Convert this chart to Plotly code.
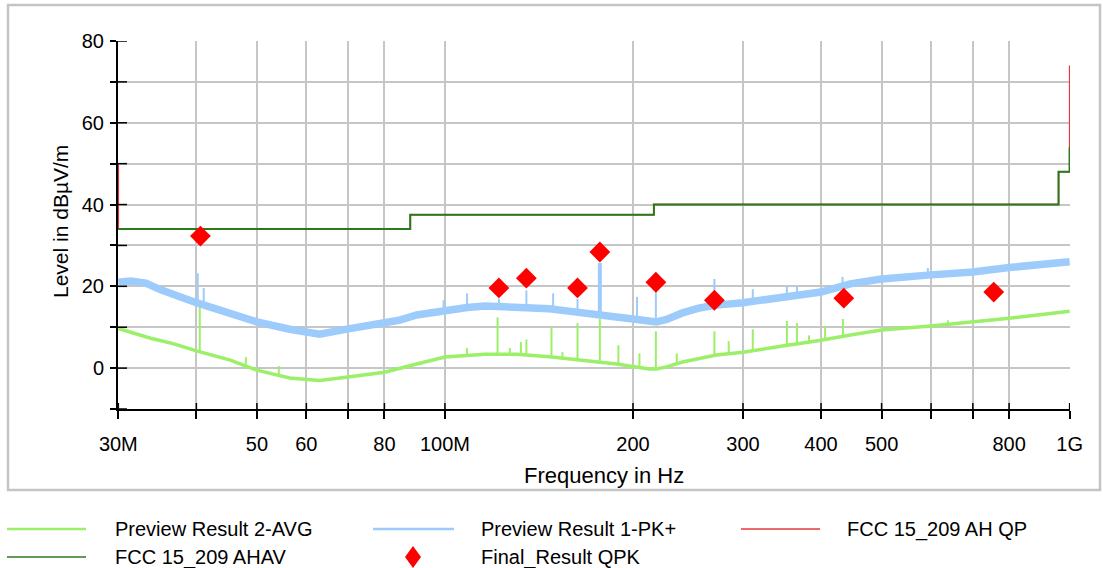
import plotly.graph_objects as go

MHZ = 1e6

# ---------------- data (frequencies in MHz, levels in dBµV/m) ----------------
pk_freq = [30, 31.4, 33.2, 35, 40, 45.2, 50, 56.4, 60, 63, 70, 80, 84.4, 90.1, 100,
           108.5, 115.9, 122.3, 130.2, 138.1, 147, 156.5, 166, 176.7, 188.1, 200,
           212.6, 218, 226.3, 240, 255.6, 272, 300, 347, 400, 445.6, 500, 600,
           700, 800, 896, 1000]
pk_level = [21.0, 21.3, 20.8, 19.2, 16.0, 13.2, 11.3, 9.5, 8.9, 8.3, 9.6, 11.0, 11.7,
            13.0, 14.2, 14.8, 15.2, 15.1, 15.0, 15.0, 14.5, 14.0, 13.4, 12.9, 12.5,
            12.0, 11.4, 11.3, 11.9, 13.5, 14.7, 15.4, 16.0, 17.1, 18.6, 20.6, 21.8,
            22.8, 23.5, 24.6, 25.3, 26.0]

# isolated peaks on the PK+ trace: frequency, level under the peak, peak level
pk_spike_freq = [40.2, 41.1, 99.5, 108.5, 122, 135, 149, 163, 203, 217.6, 270, 311,
                 352.7, 366, 433, 593]
pk_spike_base = [16.0, 16.0, 14.2, 15.0, 15.1, 15.0, 14.5, 13.6, 11.9, 11.3, 15.3,
                 16.2, 17.2, 17.5, 19.8, 22.8]
pk_spike_peak = [23.2, 19.6, 16.6, 18.3, 17.0, 19.0, 18.3, 16.9, 17.4, 18.6, 21.8,
                 19.3, 20.0, 20.0, 22.3, 24.5]
pk_big_spike_freq = [177]
pk_big_spike_base = [13.0]
pk_big_spike_peak = [25.7]

avg_freq = [30, 33.8, 36.7, 40, 45.2, 50, 56.4, 60, 63, 70, 80, 90.1, 100, 115.9,
            130.2, 147, 166, 188.1, 212.6, 218, 226.3, 240, 272, 300, 347, 400,
            445.6, 500, 600, 700, 800, 1000]
avg_level = [9.7, 7.3, 6.0, 4.2, 2.0, -0.5, -2.4, -2.8, -3.0, -2.2, -1.0, 1.0, 2.7,
             3.4, 3.4, 2.8, 2.0, 1.0, -0.2, -0.2, 0.3, 1.5, 3.2, 3.9, 5.4, 6.8, 8.1,
             9.3, 10.3, 11.3, 12.2, 13.9]

avg_spike_freq = [40.5, 48.0, 54.2, 108.5, 121.4, 127.0, 132.3, 135, 148.1, 154.2,
                  163, 177, 189.5, 204.8, 217.6, 235, 270, 284.6, 311, 352.7, 366,
                  382.6, 406, 433.6, 638.3]
avg_spike_base = [4.2, 0.0, -2.0, 3.0, 3.4, 3.4, 3.4, 3.4, 2.8, 2.6, 2.3, 1.8, 1.0,
                  0.3, -0.2, 1.0, 3.2, 3.5, 4.0, 5.4, 5.6, 6.0, 6.9, 7.5, 10.5]
avg_spike_peak = [15.0, 2.7, 0.5, 4.9, 12.4, 4.9, 6.4, 7.0, 10.0, 3.9, 11.0, 12.0,
                  5.6, 3.6, 9.0, 3.6, 9.0, 6.6, 9.5, 11.5, 11.0, 8.0, 10.3, 12.0, 11.7]

qp_limit_freq = [30, 30, 88, 88, 216, 216, 960, 960, 1000, 1000]
qp_limit_level = [50, 34, 34, 37.5, 37.5, 40, 40, 48, 48, 74]

av_limit_freq = [30, 88, 88, 216, 216, 960, 960, 1000, 1000]
av_limit_level = [34, 34, 37.5, 37.5, 40, 40, 48, 48, 54]

final_freq = [40.6, 122, 135, 163, 177, 217.6, 270, 435, 756]
final_level = [32.3, 19.6, 22.0, 19.6, 28.4, 21.0, 16.6, 17.1, 18.6]

x_tick_vals = [30, 40, 50, 60, 70, 80, 100, 200, 300, 400, 500, 600, 700, 800, 1000]
x_tick_text = ["30M", "", "50", "60", "", "80", "100M", "200", "300", "400", "500",
               "", "", "800", "1G"]
y_tick_vals = [-10, 0, 10, 20, 30, 40, 50, 60, 70, 80]
y_tick_text = ["", "0", "", "20", "", "40", "", "60", "", "80"]

legend_names = ["Preview Result 2-AVG", "Preview Result 1-PK+", "FCC 15_209 AH QP",
                "FCC 15_209 AHAV", "Final_Result QPK"]

# ---------------- styling ----------------
GREEN = "#9cef68"
BLUE = "#9dcbfb"
RED = "#e8363b"
DKGREEN = "#2a7a1c"
FONT = "Liberation Sans, Arial, sans-serif"

W, H = 1103, 568
L, R, T, B = 118, 33, 41, 159
PW, PH = W - L - R, H - T - B


def px(xp):
    return (xp - L) / PW


def py(yp):
    return (T + PH - yp) / PH


def spikes(freqs, bases, peaks):
    xs, ys = [], []
    for f, b, p in zip(freqs, bases, peaks):
        xs += [f * MHZ, f * MHZ, None]
        ys += [b, p, None]
    return xs, ys


fig = go.Figure()

# AVG
fig.add_trace(go.Scatter(x=[f * MHZ for f in avg_freq], y=avg_level, mode="lines",
                         line=dict(color=GREEN, width=3.5), name=legend_names[0]))
sx, sy = spikes(avg_spike_freq, avg_spike_base, avg_spike_peak)
fig.add_trace(go.Scatter(x=sx, y=sy, mode="lines", line=dict(color=GREEN, width=2)))

# PK+
fig.add_trace(go.Scatter(x=[f * MHZ for f in pk_freq], y=pk_level, mode="lines",
                         line=dict(color=BLUE, width=7.5), name=legend_names[1]))
sx, sy = spikes(pk_spike_freq, pk_spike_base, pk_spike_peak)
fig.add_trace(go.Scatter(x=sx, y=sy, mode="lines", line=dict(color=BLUE, width=2)))
sx, sy = spikes(pk_big_spike_freq, pk_big_spike_base, pk_big_spike_peak)
fig.add_trace(go.Scatter(x=sx, y=sy, mode="lines", line=dict(color=BLUE, width=4)))

# limits
fig.add_trace(go.Scatter(x=[f * MHZ for f in qp_limit_freq], y=qp_limit_level,
                         mode="lines", line=dict(color=RED, width=1.5),
                         name=legend_names[2]))
fig.add_trace(go.Scatter(x=[f * MHZ for f in av_limit_freq], y=av_limit_level,
                         mode="lines", line=dict(color=DKGREEN, width=2),
                         name=legend_names[3]))

# final
fig.add_trace(go.Scatter(x=[f * MHZ for f in final_freq], y=final_level, mode="markers",
                         marker=dict(symbol="diamond", size=16, color="#ff0000",
                                     line=dict(width=0)),
                         name=legend_names[4]))

shapes = []
# outer frame
shapes.append(dict(type="rect", xref="paper", yref="paper",
                   x0=px(8), x1=px(1100), y0=py(490), y1=py(5),
                   line=dict(color="#c4c4c4", width=2.5), layer="below"))
# inside tick parts
for v in x_tick_vals:
    shapes.append(dict(type="line", xref="x", yref="paper", x0=v * MHZ, x1=v * MHZ,
                       y0=0, y1=6 / PH, line=dict(color="black", width=1.5)))
for v in y_tick_vals:
    shapes.append(dict(type="line", xref="paper", yref="y", x0=0, x1=9 / PW,
                       y0=v, y1=v, line=dict(color="black", width=1.5)))

# manual legend
row1, row2 = 529, 557
legend_items = [
    (7, 86, row1, GREEN, 2.5, 113, legend_names[0]),
    (373, 454, row1, BLUE, 2.5, 479, legend_names[1]),
    (741, 820, row1, RED, 1.5, 845, legend_names[2]),
    (7, 86, row2, DKGREEN, 1.5, 113, legend_names[3]),
]
annotations = []
for x0, x1, yy, col, w, tx, name in legend_items:
    shapes.append(dict(type="line", xref="paper", yref="paper", x0=px(x0), x1=px(x1),
                       y0=py(yy), y1=py(yy), line=dict(color=col, width=w)))
    annotations.append(dict(x=px(tx), y=py(yy), xref="paper", yref="paper",
                            text=name, showarrow=False, xanchor="left",
                            yanchor="middle", font=dict(size=20, color="black",
                                                        family=FONT)))
# diamond legend symbol
cx, cy = 413, row2
path = "M {a},{b} L {c},{d} L {e},{b} L {c},{f} Z".format(
    a=px(cx - 8), b=py(cy), c=px(cx), d=py(cy - 11), e=px(cx + 8), f=py(cy + 11))
shapes.append(dict(type="path", xref="paper", yref="paper", path=path,
                   fillcolor="#ff0000", line=dict(width=0)))
annotations.append(dict(x=px(479), y=py(row2), xref="paper", yref="paper",
                        text=legend_names[4], showarrow=False, xanchor="left",
                        yanchor="middle", font=dict(size=20, color="black", family=FONT)))

# axis titles
annotations.append(dict(x=px(604), y=py(475), xref="paper", yref="paper",
                        text="Frequency in Hz", showarrow=False, xanchor="center",
                        yanchor="middle", font=dict(size=22, color="black", family=FONT)))
annotations.append(dict(x=px(60), y=py(222), xref="paper", yref="paper",
                        text="Level in dBµV/m", showarrow=False, textangle=-90,
                        xanchor="center", yanchor="middle",
                        font=dict(size=21, color="black", family=FONT)))

fig.update_layout(
    width=W, height=H,
    margin=dict(l=L, r=R, t=T, b=B, pad=0),
    paper_bgcolor="white", plot_bgcolor="white",
    showlegend=False,
    font=dict(family=FONT, size=20, color="black"),
    shapes=shapes, annotations=annotations,
    xaxis=dict(type="log", range=[7.4766, 9.0006], tickmode="array",
               tickvals=[v * MHZ for v in x_tick_vals], ticktext=x_tick_text,
               showgrid=True, gridcolor="#c6c6c6", gridwidth=1.5,
               showline=True, linecolor="black", linewidth=2,
               ticks="outside", ticklen=8, tickwidth=1.5, tickcolor="black",
               ticklabelstandoff=8, zeroline=False,
               tickfont=dict(size=20, family=FONT, color="black")),
    yaxis=dict(range=[-10, 80], tickmode="array", tickvals=y_tick_vals,
               ticktext=y_tick_text, showgrid=True, gridcolor="#c6c6c6",
               gridwidth=1.5, showline=True, linecolor="black", linewidth=2,
               ticks="outside", ticklen=6, tickwidth=1.5, tickcolor="black",
               ticklabelstandoff=2, zeroline=False,
               tickfont=dict(size=20, family=FONT, color="black")),
)

fig.write_html("out.html", config={"displayModeBar": False},
               post_script="document.body.style.margin='0px';"
                           "document.body.style.overflow='hidden';")
